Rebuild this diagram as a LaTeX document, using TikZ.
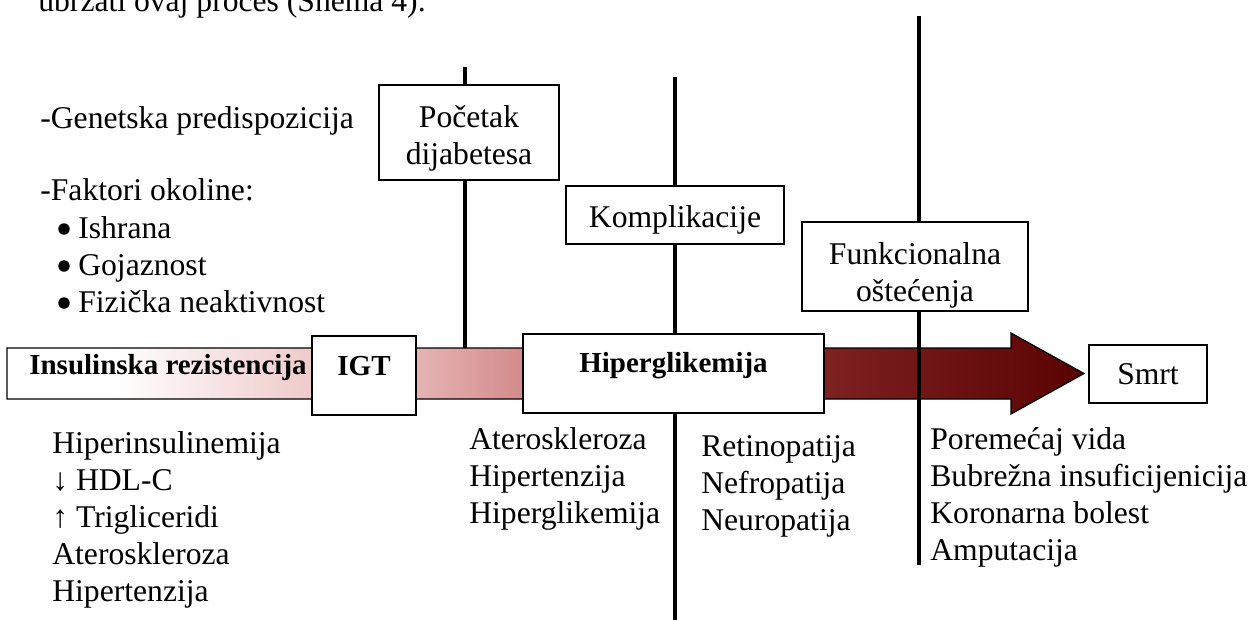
\documentclass[tikz,border=0pt]{standalone}
\usepackage{fontspec}
\setmainfont{Liberation Serif}
\definecolor{shadeA}{RGB}{240,205,205}
\definecolor{shadeB}{RGB}{229,178,178}
\definecolor{shadeC}{RGB}{212,140,140}
\definecolor{shadeD}{RGB}{125,33,33}
\definecolor{shadeE}{RGB}{90,2,2}
\pgfdeclarehorizontalshading{stageshade}{100bp}{color(0bp)=(white); color(30bp)=(white);
  color(38.6bp)=(shadeA); color(44.2bp)=(shadeB); color(48.8bp)=(shadeC);
  color(63bp)=(shadeD); color(75bp)=(shadeE); color(100bp)=(shadeE)}

\begin{document}
\begin{tikzpicture}[x=0.02cm, y=-0.02cm,
    txt/.style={anchor=base west, inner sep=0pt, font=\fontsize{18}{21}\selectfont},
    stage/.style={draw, fill=white, line width=0.85pt, inner sep=0pt, align=center,
                  font=\fontsize{18}{21}\selectfont},
    bold stage/.style={stage, font=\fontsize{16.5}{21}\selectfont\bfseries},
    stem/.style={line width=1.8pt}]
  \useasboundingbox (0,0) rectangle (1254,620);

  \node[txt] (uvod) at (38,11) {ubrzati ovaj proces (Shema 4).};

  \node[txt] (gen) at (40,128) {-Genetska predispozicija};
  \node[txt] (fak) at (40,200) {-Faktori okoline:};
  \foreach \t [count=\i] in {Ishrana, Gojaznost, Fizička neaktivnost} {
    \node[circle, fill, inner sep=0pt, minimum size=0.23cm] (dot\i) at (64,192+37*\i) {};
    \node[txt] (fk\i) at (78,201+37*\i) {\t};
  }

  \shadedraw[shading=stageshade, line width=0.7pt]
    (7,348) -- (1011,348) -- (1011,333) -- (1084,373.5) -- (1011,414) -- (1011,399) -- (7,399) -- cycle;

  \coordinate (t1) at (465,67);   \coordinate (b1) at (465,348);
  \coordinate (t2) at (675,77);   \coordinate (b2) at (675,620);
  \coordinate (t3) at (919,16);   \coordinate (b3) at (919,565);
  \draw[stem] (t1) -- (b1);
  \draw[stem] (t2) -- (b2);
  \draw[stem] (t3) -- (b3);

  \node[anchor=base, inner sep=0pt, font=\fontsize{16.5}{21}\selectfont\bfseries] (ir) at (168,374) {Insulinska rezistencija};
  \node[bold stage, anchor=base, minimum width=2.08cm, text height=0.78cm, text depth=0.8cm] (igt) at (364,375) {IGT};
  \node[bold stage, anchor=base, minimum width=6.02cm, text height=0.76cm, text depth=0.82cm] (hg) at (673.5,372) {Hiperglikemija};
  \node[stage, minimum width=3.6cm, minimum height=1.9cm] (pd) at (469,132.5) {\rule{0pt}{0.68cm}Početak\\dijabetesa};
  \node[stage, minimum width=4.36cm, minimum height=1.16cm] (kp) at (675,215) {\rule{0pt}{0.64cm}Komplikacije};
  \node[stage, minimum width=4.52cm, minimum height=1.78cm] (fo) at (915,266.5) {\rule{0pt}{0.8cm}Funkcionalna\\oštećenja};
  \node[stage, minimum width=2.36cm, minimum height=1.16cm] (sm) at (1148,374) {Smrt};

  \foreach \t [count=\i] in {Hiperinsulinemija, ↓ HDL-C, ↑ Trigliceridi, Ateroskleroza, Hipertenzija}
    \node[txt] (hi\i) at (52,416+37*\i) {\t};
  \foreach \t [count=\i] in {Ateroskleroza, Hipertenzija, Hiperglikemija}
    \node[txt] (at\i) at (469,412+37*\i) {\t};
  \foreach \t [count=\i] in {Retinopatija, Nefropatija, Neuropatija}
    \node[txt] (re\i) at (701,419+37*\i) {\t};
  \foreach \t [count=\i] in {Poremećaj vida, Bubrežna insuficijenicija, Koronarna bolest, Amputacija}
    \node[txt] (po\i) at (930,412+37*\i) {\t};
\end{tikzpicture}
\end{document}
